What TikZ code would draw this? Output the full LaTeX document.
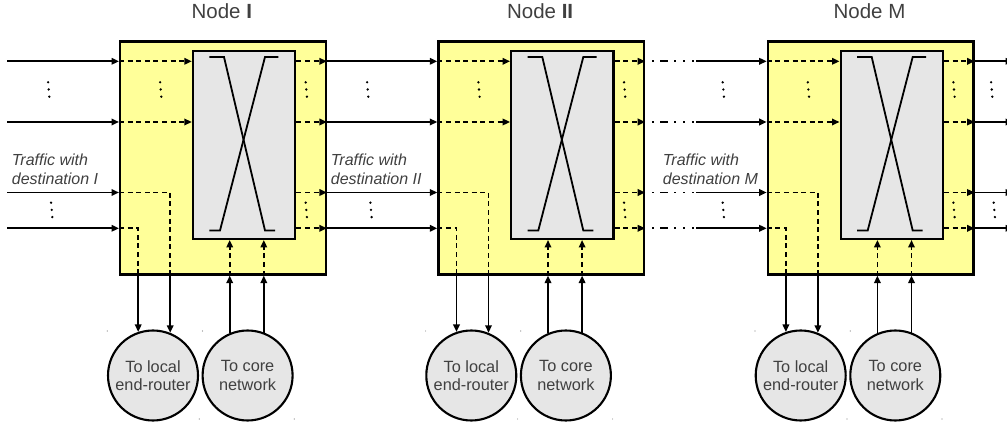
\documentclass[tikz,border=0pt]{standalone}
\usepackage{fontspec}
\setmainfont{Liberation Sans}
\usetikzlibrary{arrows.meta}

\definecolor{boxyellow}{HTML}{FFFF99}
\definecolor{switchgray}{HTML}{E6E6E6}
\definecolor{labelgray}{HTML}{404040}

\tikzset{
  ybox/.style={draw, line width=2.3pt, fill=boxyellow, inner sep=0pt, anchor=north west},
  gbox/.style={draw, line width=2.3pt, fill=switchgray, inner sep=0pt, anchor=north west},
  port/.style={draw, circle, line width=2.1pt, fill=switchgray, minimum size=90pt, inner sep=0pt,
    text=labelgray, font=\fontsize{16.3}{18.3}\selectfont, align=center},
  titletext/.style={text=labelgray, font=\fontsize{20.5}{23}\selectfont, inner sep=0pt, anchor=base},
  trafficlbl/.style={text=labelgray, font=\fontsize{16}{18.3}\selectfont\itshape, align=left,
    inner sep=0pt, anchor=north west},
  sline/.style={line width=1.8pt},
  dline/.style={line width=1.8pt, dash pattern=on 5pt off 3.6pt},
  dashdot/.style={line width=1.8pt,
    dash pattern=on 0pt off 7pt on 1.8pt off 6pt on 8pt off 6.3pt on 1.8pt off 7.2pt on 1.8pt off 7.2pt on 1.8pt off 20pt},
  arrowed/.style={-{Triangle[length=7.5pt,width=6.5pt]}},
}

% three stacked dots
\newcommand\vdotsat[2]{%
  \fill (#1-0.6,#2) circle (1.3pt) (#1,#2+7.2) circle (1.3pt) (#1+0.6,#2+14.4) circle (1.3pt);}

% one optical cross-connect node with its local and core ports
\newcommand\oxcblock[3]{%
\begin{scope}[shift={(#2,0)}]
  \node[ybox, minimum width=205.6pt, minimum height=233pt] (#1Y) at (0,40.3) {};
  \node[gbox, minimum width=102.2pt, minimum height=187.7pt] (#1G) at (72.8,50) {};
  \node[titletext] (#1T) at (102.8,18.3) {Node #3};
  \coordinate (#1r1) at (0,61.3);
  \coordinate (#1r2) at (0,122);
  \coordinate (#1r3) at (0,192.5);
  \coordinate (#1r4) at (0,228.3);
  \coordinate (#1d3) at (51.2,192.5);
  \coordinate (#1d4) at (19.2,228.3);
  \coordinate (#1u1) at (110.7,0);
  \coordinate (#1u2) at (144.8,0);
  \node[port] (#1L) at (34,375.5) {To local\\end-router};
  \node[port] (#1C) at (128.6,375.5) {To core\\network};
  % switching fabric
  \draw[sline] (90.4,57) -- (105,57) -- (146,230.5) -- (156,230.5);
  \draw[sline] (159.4,57) -- (146,57) -- (101,230.5) -- (90.4,230.5);
  % internal paths
  \draw[dline,arrowed] (#1Y.west |- #1r1) -- (#1G.west |- #1r1);
  \draw[dline,arrowed] (#1Y.west |- #1r2) -- (#1G.west |- #1r2);
  \foreach \k in {1,...,4} {\draw[dline,arrowed] (#1G.east |- #1r\k) -- (#1Y.east |- #1r\k);}
  \draw[dline] (#1Y.west |- #1r3) -- (#1d3) -- (#1d3 |- #1Y.south);
  \draw[dline] (#1Y.west |- #1r4) -- (#1d4) -- (#1d4 |- #1Y.south);
  \draw[sline,arrowed] (#1d3 |- #1Y.south) -- (#1d3 |- #1L.68);
  \draw[sline,arrowed] (#1d4 |- #1Y.south) -- (#1d4 |- #1L.109);
  \draw[sline,arrowed] (#1u1 |- #1C.113) -- (#1u1 |- #1Y.south);
  \draw[sline,arrowed] (#1u2 |- #1C.69) -- (#1u2 |- #1Y.south);
  \draw[dline,arrowed] (#1u1 |- #1Y.south) -- (#1u1 |- #1G.south);
  \draw[dline,arrowed] (#1u2 |- #1Y.south) -- (#1u2 |- #1G.south);
  % dots for omitted channels
  \vdotsat{41.7}{82.3}
  \vdotsat{187.3}{82.3}
  \vdotsat{187.3}{202.7}
  % small specks around the ports
  \fill[gray] (-11.7,331) circle (0.6pt) (83.5,331) circle (0.6pt)
              (80.3,419) circle (0.6pt) (175.3,419) circle (0.6pt);
\end{scope}}

\begin{document}
\begin{tikzpicture}[x=1pt, y=-1pt]
  \useasboundingbox (0,0) rectangle (1007,427);

  \oxcblock{n1}{119}{\textbf{I}}
  \oxcblock{n2}{437.3}{\textbf{II}}
  \oxcblock{n3}{766.7}{M}

  \foreach \k/\y in {1/61.3,2/122,3/192.5,4/228.3} {
    \coordinate (src\k) at (7,\y);
    \coordinate (gap\k) at (696,\y);
    \coordinate (sink\k) at (1013,\y);
    \draw[sline,arrowed] (src\k) -- (n1Y.west |- n1r\k);
    \draw[sline,arrowed] (n1Y.east |- n1r\k) -- (n2Y.west |- n2r\k);
    \draw[dashdot] (n2Y.east |- n2r\k) -- (gap\k);
    \draw[sline,arrowed] (gap\k) -- (n3Y.west |- n3r\k);
    \draw[sline,arrowed] (n3Y.east |- n3r\k) -- (sink\k);
  }

  % dots between the nodes
  \vdotsat{48.7}{82.3}
  \vdotsat{51.7}{202.7}
  \vdotsat{367.7}{82.3}
  \vdotsat{371}{202.7}
  \vdotsat{723.3}{82.3}
  \vdotsat{723.3}{202.7}
  \vdotsat{991.7}{82.3}
  \vdotsat{994.3}{202.7}

  % traffic labels
  \node[trafficlbl] (lbl1) at (11.7,154) {Traffic with\\destination I};
  \node[trafficlbl] (lbl2) at (330.7,154) {Traffic with\\destination II};
  \node[trafficlbl] (lbl3) at (662.7,154) {Traffic with\\destination M};
\end{tikzpicture}
\end{document}
